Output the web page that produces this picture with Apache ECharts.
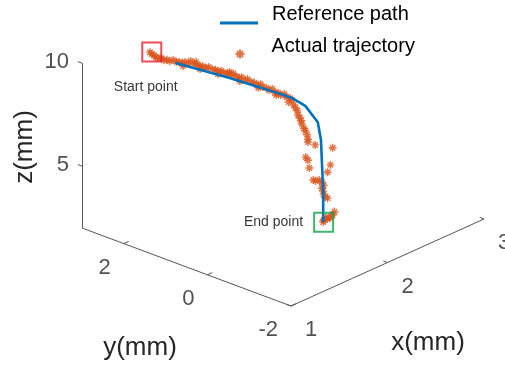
<!DOCTYPE html>
<html><head><meta charset="utf-8">
<script src="https://cdn.jsdelivr.net/npm/echarts@6/dist/echarts.min.js"></script>
<style>html,body{margin:0;padding:0;background:#fff}#c{width:505px;height:369px}</style>
</head><body><div id="c"></div>
<script>
// ---- data (mm) ----
const refX = [1.44,1.59,1.72,1.85,1.98,2.04,2.11,2.17,2.19,2.19,2.20,2.20];
const refY = [1.78,1.43,1.13,0.82,0.52,0.38,0.22,0.06,0.03,0.01,0.00,0.00];
const refZ = [10.0,9.56,9.18,8.75,8.32,8.10,7.69,6.89,6.01,5.04,3.58,2.03];

const trajX = [1.31,1.32,1.33,1.34,1.35,1.37,1.38,1.40,1.41,1.43,1.45,1.46,1.48,1.48,1.49,1.51,1.52,1.54,1.55,1.55,1.57,1.57,1.58,1.60,1.61,1.63,1.65,1.66,1.66,1.68,1.69,1.71,1.72,1.72,1.74,1.75,1.77,1.77,1.78,1.80,1.81,1.83,1.85,1.86,1.87,1.88,1.89,1.91,1.92,1.94,1.95,1.96,1.97,1.98,2.00,2.01,2.03,2.02,2.04,2.05,2.06,2.07,2.07,2.08,2.09,2.09,2.10,2.11,2.12,2.12,2.12,2.16,2.25,2.11,2.12,2.13,2.24,2.22,2.15,2.16,2.18,2.19,2.20,2.19,2.20,2.20,2.21,2.22,2.26,2.25,2.23,2.22,2.20,2.20,2.21,2.24];
const trajY = [2.09,2.07,2.04,2.02,2.00,1.96,1.92,1.89,1.85,1.81,1.78,1.74,1.71,1.69,1.67,1.63,1.60,1.56,1.54,1.52,1.49,1.49,1.45,1.42,1.38,1.34,1.31,1.27,1.27,1.23,1.20,1.16,1.13,1.13,1.09,1.05,1.02,1.00,0.98,0.94,0.91,0.87,0.84,0.80,0.79,0.76,0.73,0.69,0.65,0.62,0.58,0.57,0.55,0.51,0.47,0.44,0.40,0.41,0.38,0.36,0.34,0.32,0.30,0.28,0.27,0.26,0.23,0.22,0.20,0.18,0.18,0.10,-0.11,0.21,0.18,0.17,-0.08,-0.06,0.12,0.09,0.05,0.01,-0.01,0.01,0.00,-0.01,-0.02,-0.06,-0.13,-0.11,-0.07,-0.05,-0.01,0.00,-0.03,-0.08];
const trajZ = [10.57,10.47,10.42,10.32,10.27,10.26,10.16,10.16,10.10,10.15,10.04,10.04,9.99,9.84,10.03,9.93,10.07,9.92,10.01,9.86,9.81,9.66,9.80,9.70,9.75,9.64,9.59,9.54,9.39,9.53,9.43,9.42,9.32,9.47,9.37,9.26,9.16,9.01,9.20,9.05,9.10,8.95,8.89,8.79,8.64,8.83,8.68,8.63,8.53,8.57,8.42,8.27,8.37,8.26,8.31,8.16,8.10,7.91,8.00,7.76,7.61,7.46,7.27,7.12,6.97,6.82,6.62,6.48,6.28,6.08,5.94,5.78,5.61,5.21,5.06,4.67,4.78,4.45,4.08,4.03,4.07,3.97,3.82,3.68,3.53,3.39,3.24,3.19,2.50,2.35,2.26,2.17,2.12,2.03,2.22,2.21];

const startPt = [1.32, 2.07, 10.57];
const endPt   = [2.20, -0.01, 2.03];

const xLim = [1, 3], yLim = [-2, 3], zLim = [2, 10];
const xTicks = [1, 2, 3];
const yTicks = [-2, 0, 2];
const zTicks = [5, 10];

// ---- view: orthographic projection of the 3D box onto the page ----
const view = { origin: [291, 306], ex: [96.5, -43.5], ey: [-41.8, -15.6], ez: [0, -20.6] };
function proj(x, y, z) {
  const a = x - xLim[0], b = y - yLim[0], c = z - zLim[0];
  return [view.origin[0] + a*view.ex[0] + b*view.ey[0] + c*view.ez[0],
          view.origin[1] + a*view.ex[1] + b*view.ey[1] + c*view.ez[1]];
}

const FONT = 'Liberation Sans, Arial, sans-serif';
const AX = '#262626';
const BLUE = '#0072BD', ORANGE = '#D95319';
const STAR = 'path://M5,0L5,10M0,5L10,5M1.6,1.6L8.4,8.4M8.4,1.6L1.6,8.4';

const axisLines = [
  { coords: [proj(xLim[0], yLim[1], zLim[0]), proj(xLim[0], yLim[1], zLim[1])] },
  { coords: [proj(xLim[0], yLim[1], zLim[0]), proj(xLim[0], yLim[0], zLim[0])] },
  { coords: [proj(xLim[0], yLim[0], zLim[0]), proj(xLim[1], yLim[0], zLim[0])] }
];
const tickSegs = [];
zTicks.forEach(z => tickSegs.push({ coords: [proj(xLim[0], yLim[1], z), proj(xLim[0], yLim[1] + 0.1, z)] }));
yTicks.forEach(y => tickSegs.push({ coords: [proj(xLim[0], y, zLim[0]), proj(xLim[0] + 0.05, y, zLim[0])] }));
xTicks.forEach(x => tickSegs.push({ coords: [proj(x, yLim[0], zLim[0]), proj(x, yLim[0] + 0.1, zLim[0])] }));

function tickLabelSeries(pts, align, offset) {
  return {
    type: 'scatter', silent: true, symbolSize: 1, itemStyle: { color: 'rgba(0,0,0,0)' },
    data: pts,
    label: { show: true, position: 'inside', formatter: '{b}', color: AX, fontSize: 22, fontFamily: FONT,
             align: align, verticalAlign: 'middle', offset: offset },
    z: 5
  };
}

const chart = echarts.init(document.getElementById('c'), null, { renderer: 'canvas' });
chart.setOption({
  animation: false,
  backgroundColor: '#fff',
  textStyle: { fontFamily: FONT },
  grid: { left: 0, right: 0, top: 0, bottom: 0 },
  xAxis: { type: 'value', min: 0, max: 505, show: false },
  yAxis: { type: 'value', min: 0, max: 369, inverse: true, show: false },
  legend: [
    { data: [{ name: 'Reference path', icon: 'rect' }], left: 220, top: 4, padding: 0, orient: 'vertical',
      selectedMode: false, itemWidth: 38, itemHeight: 3,
      formatter: '{t|{name}}',
      textStyle: { fontSize: 20, color: '#000', fontFamily: FONT, padding: [0, 0, 0, 9],
                   rich: { t: { fontSize: 20, fontFamily: FONT, color: '#000', padding: [0, 0, 18, 0] } } } },
    { data: ['Actual trajectory'], left: 234.5, top: 36, padding: 0, orient: 'vertical',
      selectedMode: false, itemWidth: 9, itemHeight: 9,
      formatter: '{t|{name}}',
      textStyle: { fontSize: 20, color: '#000', fontFamily: FONT, padding: [0, 0, 0, 22],
                   rich: { t: { fontSize: 20, fontFamily: FONT, color: '#000', padding: [0, 0, 16, 0] } } } }
  ],
  series: [
    { type: 'lines', coordinateSystem: 'cartesian2d', silent: true, data: axisLines,
      lineStyle: { color: '#555', width: 1, opacity: 1 } },
    { type: 'lines', coordinateSystem: 'cartesian2d', silent: true, data: tickSegs,
      lineStyle: { color: '#555', width: 1, opacity: 1 } },
    tickLabelSeries(zTicks.map(z => ({ name: String(z), value: proj(xLim[0], yLim[1], z) })), 'right', [-13, -1]),
    tickLabelSeries(yTicks.map(y => ({ name: String(y), value: proj(xLim[0], y, zLim[0]) })), 'right', [-13, 24]),
    tickLabelSeries(xTicks.map(x => ({ name: String(x), value: proj(x, yLim[0], zLim[0]) })), 'left', [14, 24]),
    { name: 'Actual trajectory', type: 'scatter', symbol: STAR, symbolSize: 8,
      itemStyle: { color: 'rgba(0,0,0,0)', borderColor: ORANGE, borderWidth: 1.4 },
      data: trajX.map((x, i) => proj(x, trajY[i], trajZ[i])), z: 3 },
    { name: 'Reference path', type: 'line', showSymbol: false, symbol: 'none',
      lineStyle: { color: BLUE, width: 2.6 }, itemStyle: { color: BLUE },
      data: refX.map((x, i) => proj(x, refY[i], refZ[i])), z: 4 },
    { type: 'scatter', silent: true, symbol: 'rect', symbolSize: 19,
      itemStyle: { color: 'rgba(0,0,0,0)', borderColor: '#E8202A', borderWidth: 2 },
      label: { show: true, position: 'bottom', distance: 18, offset: [-6, 0], formatter: 'Start point',
               fontSize: 14, color: '#000', fontFamily: FONT },
      data: [proj(startPt[0], startPt[1], startPt[2])], z: 6 },
    { type: 'scatter', silent: true, symbol: 'rect', symbolSize: 19,
      itemStyle: { color: 'rgba(0,0,0,0)', borderColor: '#12A04A', borderWidth: 2 },
      label: { show: true, position: 'left', distance: 10, formatter: 'End point',
               fontSize: 14, color: '#000', fontFamily: FONT },
      data: [proj(endPt[0], endPt[1], endPt[2])], z: 6 }
  ],
  graphic: [
    { type: 'text', x: 25, y: 147, rotation: Math.PI / 2,
      style: { text: 'z(mm)', fontSize: 26, fontFamily: FONT, fill: AX, align: 'center', verticalAlign: 'middle' } },
    { type: 'text', x: 140, y: 348,
      style: { text: 'y(mm)', fontSize: 26, fontFamily: FONT, fill: AX, align: 'center', verticalAlign: 'middle' } },
    { type: 'text', x: 428, y: 343,
      style: { text: 'x(mm)', fontSize: 26, fontFamily: FONT, fill: AX, align: 'center', verticalAlign: 'middle' } }
  ]
});
</script></body></html>
